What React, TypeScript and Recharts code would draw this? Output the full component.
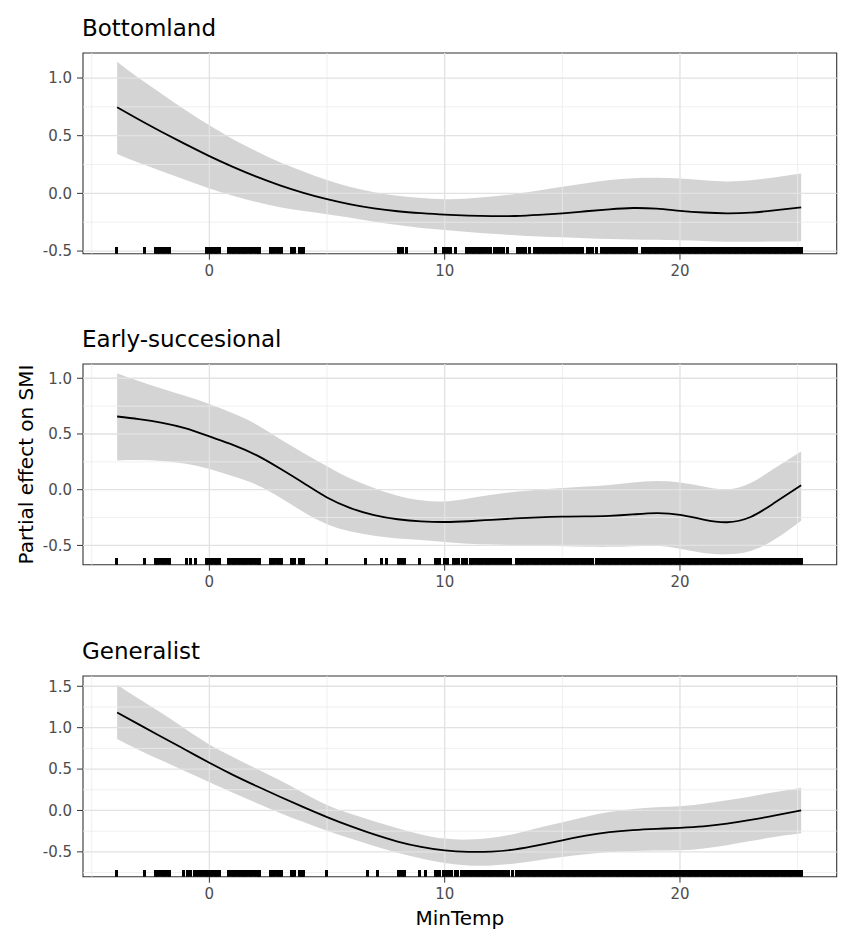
import React from 'react';
import {
  ComposedChart,
  Area,
  Line,
  Scatter,
  XAxis,
  YAxis,
  ReferenceLine,
  ReferenceArea,
} from 'recharts';

const FONT = '"DejaVu Sans", Verdana, sans-serif';

// MinTemp grid on which the smooths are evaluated
const minTemp = [-3.92, -3, -2, -1, 0, 1, 2, 3, 4, 5, 6, 7, 8, 9, 10, 11, 12, 13, 14, 15, 16, 17, 18, 19, 20, 21, 22, 23, 24, 25.15];

// Bottomland
const bottomFit = [0.746, 0.64, 0.53, 0.425, 0.323, 0.23, 0.145, 0.07, 0.005, -0.05, -0.095, -0.13, -0.155, -0.172, -0.185, -0.193, -0.197, -0.196, -0.187, -0.173, -0.155, -0.138, -0.127, -0.133, -0.151, -0.166, -0.173, -0.167, -0.148, -0.121];
const bottomHi = [1.141, 1.0, 0.86, 0.72, 0.59, 0.47, 0.365, 0.27, 0.19, 0.115, 0.055, 0.01, -0.02, -0.04, -0.05, -0.045, -0.028, -0.005, 0.025, 0.057, 0.088, 0.115, 0.132, 0.136, 0.13, 0.114, 0.103, 0.113, 0.138, 0.173];
const bottomLo = [0.341, 0.265, 0.19, 0.115, 0.043, -0.02, -0.075, -0.12, -0.152, -0.18, -0.212, -0.245, -0.275, -0.3, -0.318, -0.335, -0.35, -0.363, -0.373, -0.38, -0.389, -0.396, -0.4, -0.403, -0.406, -0.413, -0.419, -0.42, -0.418, -0.414];

// Early-succesional
const earlyFit = [0.657, 0.633, 0.6, 0.55, 0.478, 0.403, 0.31, 0.19, 0.06, -0.07, -0.165, -0.228, -0.265, -0.284, -0.29, -0.283, -0.27, -0.258, -0.248, -0.242, -0.24, -0.235, -0.222, -0.21, -0.225, -0.268, -0.292, -0.245, -0.12, 0.039];
const earlyHi = [1.045, 0.975, 0.905, 0.84, 0.768, 0.685, 0.585, 0.455, 0.33, 0.21, 0.1, 0.015, -0.055, -0.095, -0.105, -0.078, -0.045, -0.018, 0.0, 0.015, 0.028, 0.042, 0.065, 0.078, 0.065, 0.028, 0.003, 0.06, 0.19, 0.343];
const earlyLo = [0.263, 0.266, 0.257, 0.232, 0.185, 0.12, 0.045, -0.07, -0.2, -0.31, -0.375, -0.413, -0.437, -0.452, -0.47, -0.485, -0.492, -0.498, -0.503, -0.508, -0.512, -0.513, -0.508, -0.503, -0.53, -0.568, -0.58, -0.55, -0.45, -0.278];

// Generalist
const genFit = [1.183, 1.04, 0.885, 0.73, 0.576, 0.43, 0.295, 0.165, 0.04, -0.08, -0.19, -0.29, -0.375, -0.44, -0.483, -0.5, -0.496, -0.47, -0.42, -0.36, -0.305, -0.262, -0.237, -0.222, -0.21, -0.193, -0.16, -0.115, -0.063, 0.0];
const genHi = [1.518, 1.35, 1.17, 0.98, 0.797, 0.645, 0.505, 0.365, 0.21, 0.065, -0.04, -0.13, -0.215, -0.29, -0.34, -0.352, -0.33, -0.28, -0.21, -0.141, -0.075, -0.02, 0.018, 0.038, 0.05, 0.08, 0.123, 0.17, 0.22, 0.274];
const genLo = [0.862, 0.73, 0.6, 0.47, 0.342, 0.215, 0.09, -0.03, -0.14, -0.245, -0.34, -0.43, -0.51, -0.58, -0.635, -0.665, -0.665, -0.64, -0.6, -0.562, -0.528, -0.503, -0.49, -0.485, -0.482, -0.46, -0.42, -0.37, -0.32, -0.274];

// Rug (observed MinTemp values)
const rugLeftShared = [-2.31, -2.2, -2.1, -2.0, -1.9, -1.8, -1.68, -0.14, -0.05, 0.05, 0.15, 0.24, 0.31, 0.41, 0.82, 0.92, 1.02, 1.12, 1.22, 1.32, 1.42, 1.5, 1.58, 1.7, 1.8, 1.9, 2.0, 2.08, 2.15, 2.59, 2.68, 2.78, 2.88, 2.98, 3.07, 3.47, 3.55, 3.63, 3.82, 3.9, 3.97, 4.02];
const rugTailShared = [18.4, 18.5, 18.6, 18.7, 18.8, 18.9, 19.0, 19.1, 19.2, 19.3, 19.4, 19.5, 19.6, 19.7, 19.8, 19.9, 20.0, 20.1, 20.2, 20.3, 20.4, 20.5, 20.6, 20.7, 20.8, 20.9, 21.0, 21.1, 21.2, 21.3, 21.4, 21.5, 21.6, 21.7, 21.8, 21.9, 22.0, 22.1, 22.2, 22.3, 22.4, 22.5, 22.6, 22.7, 22.8, 22.9, 23.0, 23.1, 23.2, 23.3, 23.4, 23.5, 23.6, 23.7, 23.8, 23.9, 24.0, 24.1, 24.2, 24.3, 24.4, 24.5, 24.6, 24.7, 24.8, 24.9, 25.0, 25.1, 25.15];
const rugBottom = [-3.94, -2.76, 8.02, 8.1, 8.2, 8.39, 9.59, 9.95, 10.05, 10.15, 10.23, 10.44, 10.92, 11.02, 11.12, 11.22, 11.32, 11.42, 11.52, 11.62, 11.72, 11.86, 11.96, 12.1, 12.25, 12.38, 12.5, 12.65, 13.1, 13.2, 13.3, 13.45, 13.62, 13.82, 13.95, 14.05, 14.15, 14.25, 14.35, 14.45, 14.55, 14.65, 14.75, 14.85, 14.95, 15.05, 15.15, 15.25, 15.35, 15.45, 15.55, 15.65, 15.75, 15.86, 16.05, 16.15, 16.27, 16.45, 16.68, 16.78, 16.88, 16.98, 17.08, 17.18, 17.28, 17.38, 17.48, 17.58, 17.68, 17.78, 17.88, 17.98, 18.08, 18.16];
const rugEarly = [-3.94, -2.76, -0.99, -0.79, -0.61, 4.99, 6.62, 7.33, 7.54, 8.02, 8.12, 8.22, 8.3, 8.95, 9.6, 9.7, 9.8, 10.0, 10.1, 10.36, 10.48, 10.6, 10.75, 10.85, 10.94, 11.08, 11.18, 11.3, 11.42, 11.52, 11.62, 11.72, 11.82, 11.92, 12.02, 12.14, 12.3, 12.42, 12.55, 12.67, 12.78, 13.06, 13.16, 13.26, 13.36, 13.46, 13.58, 13.68, 13.8, 13.9, 14.0, 14.1, 14.2, 14.3, 14.4, 14.5, 14.6, 14.7, 14.8, 14.9, 15.0, 15.1, 15.2, 15.3, 15.4, 15.5, 15.6, 15.7, 15.8, 15.9, 16.0, 16.1, 16.2, 16.3, 16.46, 16.6, 16.7, 16.8, 16.9, 17.0, 17.1, 17.2, 17.3, 17.4, 17.5, 17.6, 17.7, 17.8, 17.9, 18.0, 18.1, 18.2, 18.3];
const rugGen = [-3.94, -2.76, -1.1, -0.95, -0.8, -0.65, -0.5, -0.38, -0.26, 4.99, 6.7, 7.13, 8.02, 8.12, 8.22, 8.3, 8.95, 9.2, 9.6, 9.7, 9.8, 9.95, 10.05, 10.15, 10.3, 10.45, 10.55, 10.7, 10.85, 10.95, 11.08, 11.18, 11.3, 11.4, 11.5, 11.6, 11.7, 11.8, 11.9, 12.0, 12.12, 12.25, 12.35, 12.45, 12.58, 12.72, 12.9, 13.06, 13.16, 13.26, 13.38, 13.5, 13.6, 13.72, 13.82, 13.92, 14.02, 14.12, 14.22, 14.32, 14.42, 14.52, 14.62, 14.72, 14.82, 14.92, 15.02, 15.12, 15.22, 15.32, 15.42, 15.52, 15.62, 15.72, 15.82, 15.92, 16.02, 16.12, 16.22, 16.32, 16.42, 16.55, 16.65, 16.75, 16.85, 16.95, 17.05, 17.15, 17.25, 17.35, 17.45, 17.55, 17.65, 17.75, 17.85, 17.95, 18.05, 18.15, 18.25, 18.32];

// Axis ticks
const xTicks = [0, 10, 20];
const xMinor = [-5, 5, 15, 25];
const xDomain: [number, number] = [-5.37, 26.66];
const yTicksA = [-0.5, 0, 0.5, 1];
const yMinorA = [-0.25, 0.25, 0.75];
const yTicksC = [-0.5, 0, 0.5, 1, 1.5];
const yMinorC = [-0.75, -0.25, 0.25, 0.75, 1.25];

const titles = ['Bottomland', 'Early-succesional', 'Generalist'];
const panelTops = [52.7, 364.2, 675.7];
const PLOT_H = 200.7;

const RugTick = (props: any) => {
  const { cx, cy } = props;
  if (cx == null || cy == null) return <g />;
  return (
    <line
      x1={cx}
      x2={cx}
      y1={cy}
      y2={cy - 6.5}
      stroke="#000"
      strokeWidth={3}
      shapeRendering="crispEdges"
    />
  );
};

type PanelProps = {
  fit: number[];
  hi: number[];
  lo: number[];
  rug: number[];
  yDomain: [number, number];
  yTicks: number[];
  yMinor: number[];
  top: number;
};

function Panel({ fit, hi, lo, rug, yDomain, yTicks, yMinor, top }: PanelProps) {
  const data = minTemp.map((x, i) => ({ x, fit: fit[i], band: [lo[i], hi[i]] }));
  const rugData = rug.map((v) => ({ x: v, y: yDomain[0] }));
  const chartH = 295;
  const mTop = 50;
  const xAxisH = 40;
  const mBottom = chartH - mTop - PLOT_H - xAxisH;
  return (
    <div style={{ position: 'absolute', left: 0, top: top - mTop }}>
      <ComposedChart
        width={851}
        height={chartH}
        data={data}
        margin={{ top: mTop, right: 14.3, bottom: mBottom, left: 0 }}
      >
        <XAxis
          type="number"
          dataKey="x"
          domain={xDomain}
          ticks={xTicks}
          interval={0}
          allowDataOverflow
          axisLine={false}
          tickLine={{ stroke: '#333333' }}
          tickSize={6}
          tickMargin={6}
          height={xAxisH}
          tick={{ fill: '#4D4D4D', fontSize: 15, fontFamily: FONT }}
        />
        <YAxis
          type="number"
          domain={yDomain}
          ticks={yTicks}
          interval={0}
          allowDataOverflow
          axisLine={false}
          tickLine={{ stroke: '#333333' }}
          tickSize={6}
          tickMargin={5}
          width={83}
          tickFormatter={(v: number) => v.toFixed(1)}
          tick={{ fill: '#4D4D4D', fontSize: 15, fontFamily: FONT }}
        />
        {xMinor.map((v) => (
          <ReferenceLine key={'xm' + v} x={v} stroke="#ECECEC" strokeWidth={0.8} />
        ))}
        {yMinor.map((v) => (
          <ReferenceLine key={'ym' + v} y={v} stroke="#ECECEC" strokeWidth={0.8} />
        ))}
        {xTicks.map((v) => (
          <ReferenceLine key={'xM' + v} x={v} stroke="#E2E2E2" strokeWidth={1.3} />
        ))}
        {yTicks.map((v) => (
          <ReferenceLine key={'yM' + v} y={v} stroke="#E2E2E2" strokeWidth={1.3} />
        ))}
        <Area
          type="natural"
          dataKey="band"
          stroke="none"
          fill="#000000"
          fillOpacity={0.17}
          isAnimationActive={false}
          activeDot={false}
        />
        <Line
          type="natural"
          dataKey="fit"
          stroke="#000000"
          strokeWidth={1.8}
          dot={false}
          activeDot={false}
          isAnimationActive={false}
        />
        <Scatter data={rugData} dataKey="y" shape={RugTick} isAnimationActive={false} />
        <ReferenceArea
          x1={xDomain[0]}
          x2={xDomain[1]}
          y1={yDomain[0]}
          y2={yDomain[1]}
          fill="none"
          fillOpacity={0}
          stroke="#333333"
          strokeWidth={1.1}
          ifOverflow="visible"
        />
      </ComposedChart>
    </div>
  );
}

export default function App() {
  return (
    <div style={{ position: 'absolute', left: 0, top: 0, width: 851, height: 946, background: '#fff' }}>
      <Panel
        fit={bottomFit}
        hi={bottomHi}
        lo={bottomLo}
        rug={[...rugLeftShared, ...rugBottom, ...rugTailShared]}
        yDomain={[-0.523, 1.217]}
        yTicks={yTicksA}
        yMinor={yMinorA}
        top={panelTops[0]}
      />
      <Panel
        fit={earlyFit}
        hi={earlyHi}
        lo={earlyLo}
        rug={[...rugLeftShared, ...rugEarly, ...rugTailShared]}
        yDomain={[-0.673, 1.128]}
        yTicks={yTicksA}
        yMinor={yMinorA}
        top={panelTops[1]}
      />
      <Panel
        fit={genFit}
        hi={genHi}
        lo={genLo}
        rug={[...rugLeftShared, ...rugGen, ...rugTailShared]}
        yDomain={[-0.8, 1.624]}
        yTicks={yTicksC}
        yMinor={yMinorC}
        top={panelTops[2]}
      />
      <svg
        width={851}
        height={946}
        style={{ position: 'absolute', left: 0, top: 0, pointerEvents: 'none' }}
      >
        {titles.map((t, i) => (
          <text key={t} x={82} y={panelTops[i] - 17} fontFamily={FONT} fontSize={23} fill="#000">
            {t}
          </text>
        ))}
        <text
          transform="translate(33,464.5) rotate(-90)"
          textAnchor="middle"
          fontFamily={FONT}
          fontSize={20}
          fill="#000"
        >
          Partial effect on SMI
        </text>
        <text x={459.8} y={925} textAnchor="middle" fontFamily={FONT} fontSize={20} fill="#000">
          MinTemp
        </text>
      </svg>
    </div>
  );
}
